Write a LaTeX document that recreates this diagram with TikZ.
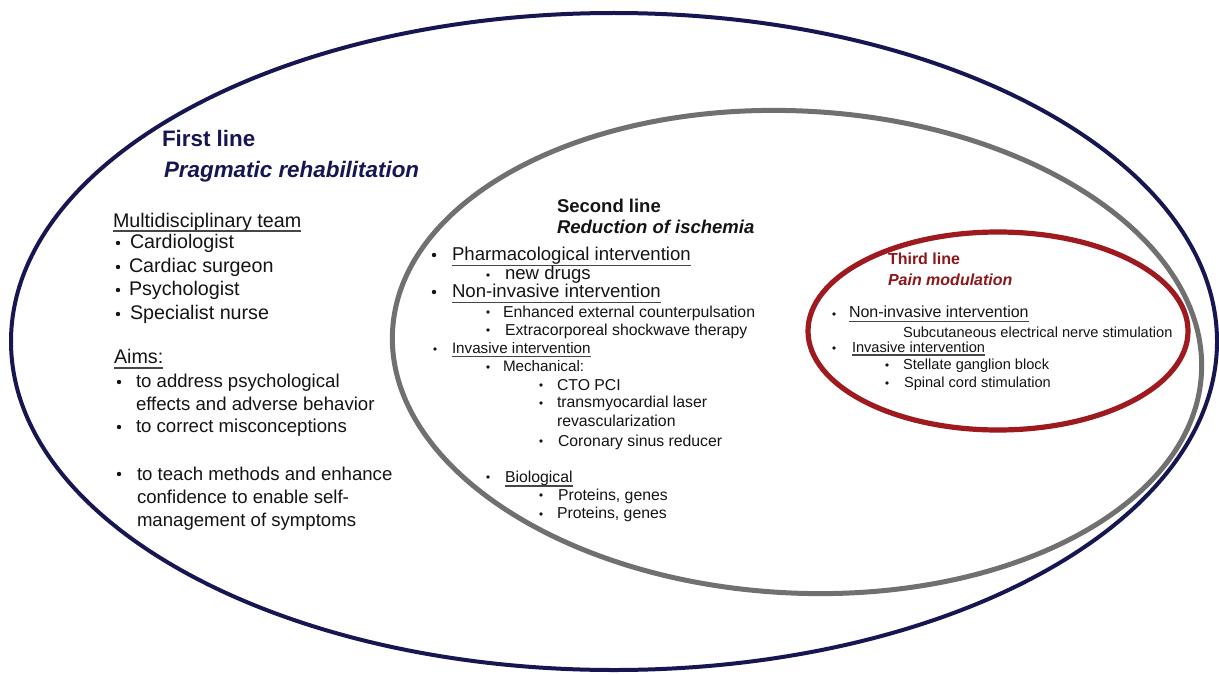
\documentclass[tikz,border=0pt]{standalone}
\usepackage{fontspec}
\setmainfont{Liberation Sans}
\definecolor{navyc}{RGB}{22,22,82}
\definecolor{grayc}{RGB}{112,112,112}
\definecolor{redc}{RGB}{158,26,30}
\definecolor{redt}{RGB}{140,22,26}
\definecolor{txt}{RGB}{20,20,20}
\definecolor{ulc}{RGB}{70,70,70}
\newcommand\fsz[1]{\fontsize{#1}{#1}\selectfont}
\begin{document}
\begin{tikzpicture}[x=0.5pt,y=-0.5pt,
  every node/.style={inner sep=0pt,outer sep=0pt,anchor=base west,text=txt},
  bdot/.style={circle,fill=txt,inner sep=0pt,minimum size=2.2pt,anchor=center},
  sdot/.style={circle,fill=txt,inner sep=0pt,minimum size=1.9pt,anchor=center},
  uline/.style={draw=ulc,line width=0.85pt},
  LA/.style={font=\fsz{9.85pt}},
  LB/.style={font=\fsz{9.3pt}},
  SA/.style={font=\fsz{9.3pt}},
  SB/.style={font=\fsz{7.9pt}},
  SC/.style={font=\fsz{7.6pt}},
  TA/.style={font=\fsz{8pt}},
  TB/.style={font=\fsz{7.3pt}}]
\fill[white] (0,0) rectangle (1219,674);
\useasboundingbox (0,0) rectangle (1219,674);
\newcommand\ul[2][2.1pt]{\draw[uline] ([yshift=-#1]#2.base west) -- ([yshift=-#1]#2.base east);}
% ellipses
\draw[navyc,line width=2pt] (614,341.5) ellipse [x radius=603, y radius=328.5];
\draw[grayc,line width=2.5pt,rotate around={-3:(797,352)}] (797,352) ellipse [x radius=405, y radius=241];
\draw[redc,line width=2.6pt] (998,331) ellipse [x radius=190, y radius=99];
% first line
\node[font=\fsz{11.2pt}\bfseries,text=navyc] (t1a) at (162,147) {First line};
\node[font=\fsz{11.2pt}\bfseries\itshape,text=navyc] (t1b) at (164,177) {Pragmatic rehabilitation};
\node[LA] (mt) at (113,227) {Multidisciplinary team}; \ul{mt}
\node[bdot] (b1) at (118,243) {}; \node[LA] (c1) at (130,248) {Cardiologist};
\node[bdot] (b2) at (118,267) {}; \node[LA] (c2) at (129,272) {Cardiac surgeon};
\node[bdot] (b3) at (118,290) {}; \node[LA] (c3) at (129,295) {Psychologist};
\node[bdot] (b4) at (118,314) {}; \node[LA] (c4) at (130,319) {Specialist nurse};
\node[LA] (aims) at (114,363) {Aims:}; \ul[2.5pt]{aims}
\node[bdot] (b5) at (119,382) {}; \node[LB] (a1) at (136,387) {to address psychological};
\node[LB] (a1b) at (136,410) {effects and adverse behavior};
\node[bdot] (b6) at (119,427) {}; \node[LB] (a2) at (136,432) {to correct misconceptions};
\node[bdot] (b7) at (119,474) {}; \node[LB] (a3) at (137,480) {to teach methods and enhance};
\node[LB] (a3b) at (137,503) {confidence to enable self-};
\node[LB] (a3c) at (137,526) {management of symptoms};
% second line
\node[font=\fsz{9.25pt}\bfseries] (t2a) at (557,212) {Second line};
\node[font=\fsz{9.25pt}\bfseries\itshape] (t2b) at (557,233) {Reduction of ischemia};
\node[bdot] (s1) at (434,255) {}; \node[SA] (p1) at (452,260) {Pharmacological intervention}; \ul[2.8pt]{p1}
\node[sdot] (s2) at (488,275) {}; \node[SA] (p2) at (505,279) {new drugs};
\node[bdot] (s3) at (434,292) {}; \node[SA] (p3) at (452,297) {Non-invasive intervention}; \ul[2.8pt]{p3}
\node[sdot] (s4) at (488,312) {}; \node[SB] (p4) at (503,317) {Enhanced external counterpulsation};
\node[sdot] (s5) at (488,330) {}; \node[SB] (p5) at (505,335) {Extracorporeal shockwave therapy};
\node[sdot] (s6) at (435,349) {}; \node[SC] (p6) at (452,353) {Invasive intervention}; \ul[1.7pt]{p6}
\node[sdot] (s7) at (488,367) {}; \node[SC] (p7) at (503,371) {Mechanical:};
\node[sdot] (s8) at (541,385) {}; \node[SB] (p8) at (557,390) {CTO PCI};
\node[sdot] (s9) at (541,403) {}; \node[SB] (p9) at (557,407) {transmyocardial laser};
\node[SB] (p9b) at (557,426) {revascularization};
\node[sdot] (s10) at (541,441) {}; \node[SB] (p10) at (558,446) {Coronary sinus reducer};
\node[sdot] (s11) at (488,477) {}; \node[SB] (p11) at (505,482) {Biological}; \ul[2pt]{p11}
\node[sdot] (s12) at (541,495) {}; \node[SB] (p12) at (558,500) {Proteins, genes};
\node[sdot] (s13) at (541,514) {}; \node[SB] (p13) at (557,518) {Proteins, genes};
% third line
\node[font=\fsz{8pt}\bfseries,text=redt] (t3a) at (888,264) {Third line};
\node[font=\fsz{8pt}\bfseries\itshape,text=redt] (t3b) at (888,285) {Pain modulation};
\node[sdot] (r1) at (834,314) {}; \node[TA] (q1) at (849,317) {Non-invasive intervention}; \ul[2.3pt]{q1}
\node[TB] (q2) at (903,337) {Subcutaneous electrical nerve stimulation};
\node[sdot] (r2) at (834,348) {}; \node[TB] (q3) at (852,352) {Invasive intervention}; \ul[1.6pt]{q3}
\node[sdot] (r3) at (887,365) {}; \node[TB] (q4) at (903,369) {Stellate ganglion block};
\node[sdot] (r4) at (887,383) {}; \node[TB] (q5) at (904,387) {Spinal cord stimulation};
\end{tikzpicture}
\end{document}
